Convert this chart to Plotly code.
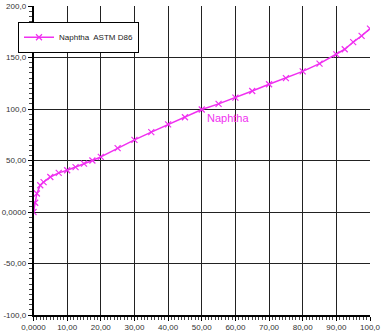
import plotly.graph_objects as go

volume_pct = [0, 0.5, 1, 2, 3, 5, 7.5, 10, 12.5, 15, 17.5, 20, 25, 30, 35, 40, 45, 50,
              55, 60, 65, 70, 75, 80, 85, 90, 92.5, 95, 97.5, 100]
temperature = [0, 9, 18, 26, 29, 34, 38, 40.5, 43.5, 47, 50, 53.5, 62, 70, 77.5, 85, 92, 99.5,
               105, 111, 117.5, 124, 130, 136.5, 144, 153, 158, 165, 171, 178]

x_tickvals = [0, 10, 20, 30, 40, 50, 60, 70, 80, 90, 100]
x_ticktext = ["0,0000", "10,00", "20,00", "30,00", "40,00", "50,00", "60,00", "70,00",
              "80,00", "90,00", "100,0"]
y_tickvals = [-100, -50, 0, 50, 100, 150, 200]
y_ticktext = ["-100,0", "-50,00", "0,0000", "50,00", "100,0", "150,0", "200,0"]

color = "#F030F0"

fig = go.Figure()
fig.add_trace(go.Scatter(
    x=volume_pct, y=temperature, mode="lines+markers",
    name="Naphtha  ASTM D86",
    line=dict(color=color, width=1.5),
    marker=dict(symbol="x-thin", size=6, line=dict(color=color, width=1.2)),
))

fig.add_annotation(x=51, y=91, text="Naphtha", showarrow=False, xanchor="left",
                   font=dict(color=color, size=11, family="Liberation Sans"))

axis_common = dict(
    showline=True, linecolor="black", linewidth=1.5, mirror=False,
    showgrid=True, gridcolor="#222222", gridwidth=1.3,
    zeroline=False, ticks="outside", ticklen=4, tickcolor="black",
    tickfont=dict(size=8, color="#333333", family="Liberation Sans"),
    automargin=False,
)

paper_w = 382 - 12
fig.update_xaxes(range=[0, 100], tickvals=x_tickvals, ticktext=x_ticktext,
                 domain=[33.5 / paper_w, 1],
                 minor=dict(dtick=1, tick0=0, ticks="outside", ticklen=3, tickcolor="#444444", showgrid=False),
                 **axis_common)
fig.update_yaxes(range=[-100, 200], tickvals=y_tickvals, ticktext=y_ticktext,
                 minor=dict(dtick=5, tick0=0, ticks="outside", ticklen=3, tickcolor="#444444", showgrid=False),
                 **axis_common)

fig.update_layout(
    width=382, height=331,
    margin=dict(l=0, r=12, t=6, b=16, pad=0),
    plot_bgcolor="white", paper_bgcolor="white",
    showlegend=True,
    legend=dict(x=18 / paper_w, y=0.949, xanchor="left", yanchor="top",
                bgcolor="white", bordercolor="black", borderwidth=1,
                font=dict(size=8, color="#222222", family="Liberation Sans"),
                itemwidth=30, tracegroupgap=0),
)

fig.write_html("out.html", config={"displayModeBar": False},
               post_script="document.body.style.margin='0';document.body.style.overflow='hidden';")
